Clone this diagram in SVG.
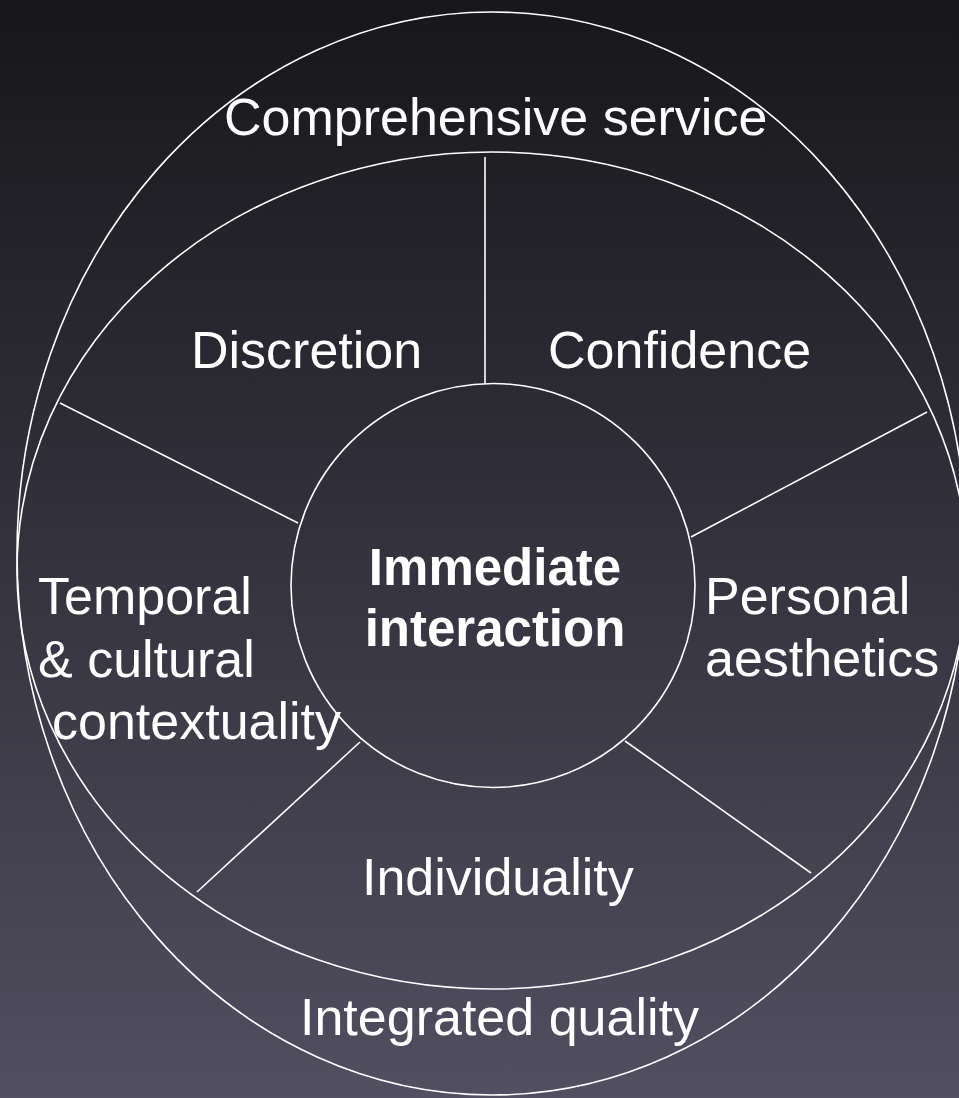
<svg xmlns="http://www.w3.org/2000/svg" width="959" height="1098" viewBox="0 0 959 1098">
<defs>
<linearGradient id="bg" x1="0" y1="0" x2="0" y2="1">
<stop offset="0" stop-color="#17171a"/>
<stop offset="0.5" stop-color="#33323d"/>
<stop offset="1" stop-color="#514f60"/>
</linearGradient>
<style>
.ln{fill:none;stroke:#ffffff;stroke-width:1.6}
.t{font-family:"Liberation Sans",Arial,sans-serif;font-size:52px;fill:#ffffff}
.b{font-family:"Liberation Sans",Arial,sans-serif;font-size:51px;font-weight:bold;fill:#ffffff;text-anchor:middle}
</style>
</defs>
<rect x="0" y="0" width="959" height="1098" fill="url(#bg)"/>
<g id="outer-ring">
<ellipse class="ln" cx="492" cy="553.5" rx="475" ry="541.5"/>
<text class="t" x="224" y="135">Comprehensive service</text>
<text class="t" x="300" y="1035">Integrated quality</text>
</g>
<g id="middle-ring">
<ellipse class="ln" cx="492" cy="570.5" rx="475" ry="418.5"/>
</g>
<g id="connectors">
<line class="ln" x1="485" y1="157" x2="485" y2="384"/>
<line class="ln" x1="60" y1="403" x2="298" y2="523"/>
<line class="ln" x1="691" y1="537" x2="927" y2="412"/>
<line class="ln" x1="360" y1="742" x2="197" y2="892"/>
<line class="ln" x1="625" y1="741" x2="811" y2="873"/>
</g>
<g id="discretion"><text class="t" x="191" y="368">Discretion</text></g>
<g id="confidence"><text class="t" x="548" y="368">Confidence</text></g>
<g id="temporal">
<text class="t" x="38" y="614">Temporal</text>
<text class="t" x="38" y="677">&amp; cultural</text>
<text class="t" x="52" y="739">contextuality</text>
</g>
<g id="personal">
<text class="t" x="705" y="614">Personal</text>
<text class="t" x="705" y="676">aesthetics</text>
</g>
<g id="individuality"><text class="t" x="362" y="895">Individuality</text></g>
<g id="center">
<circle class="ln" cx="493" cy="585.5" r="202"/>
<text class="b" x="495" y="585">Immediate</text>
<text class="b" x="495" y="646">interaction</text>
</g>
</svg>
